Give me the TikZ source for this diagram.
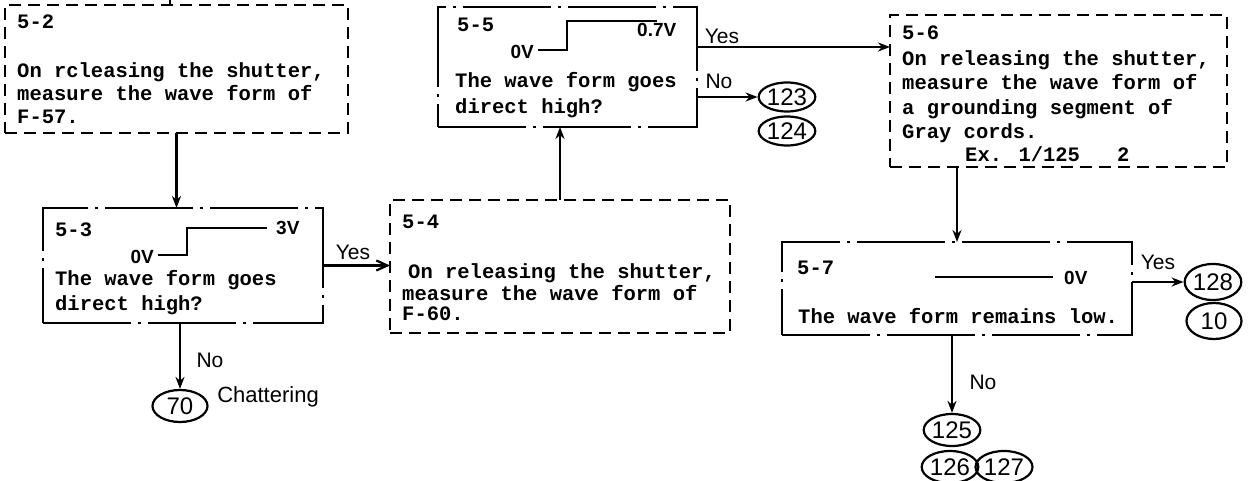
\documentclass[tikz,border=0pt]{standalone}
\usepackage{fontspec}
\newfontfamily\tw{Liberation Mono}
\newfontfamily\hw{Liberation Sans}
\usetikzlibrary{shapes.geometric,arrows.meta}
\tikzset{
  mono/.style={font=\tw\bfseries\fontsize{20.5}{24}\selectfont, inner sep=0pt, anchor=base west},
  hand/.style={font=\hw\fontsize{21}{22}\selectfont, inner sep=0pt},
  volt/.style={font=\hw\bfseries\fontsize{19}{20}\selectfont, inner sep=0pt},
  dbox/.style={draw, rectangle, line width=2.8pt, dash pattern=on 12pt off 7pt, inner sep=0pt, outer sep=0pt},
  ddbox/.style={draw, rectangle, line width=2.5pt, dash pattern=on 88pt off 7pt on 3pt off 7pt, inner sep=0pt, outer sep=0pt},
  circ/.style={draw, ellipse, line width=2.2pt, minimum width=55pt, minimum height=32pt, inner sep=0pt, font=\hw\fontsize{24}{26}\selectfont},
  arr/.style={line width=2.4pt, -{Stealth[length=12pt,width=9pt]}},
  oarr/.style={line width=2.2pt, -{Straight Barb[length=11pt,width=10pt]}},
  wave/.style={line width=2.6pt}
}
\begin{document}
\begin{tikzpicture}[x=1pt,y=-1pt]
\fill[white] (0,0) rectangle (1254,481);
\useasboundingbox (0,0) rectangle (1254,481);

% boxes
\node[dbox, minimum width=343pt, minimum height=128pt] (b52) at (176.5,69) {};
\node[ddbox, minimum width=280pt, minimum height=115pt] (b53) at (183,265.5) {};
\node[dbox, minimum width=340pt, minimum height=133pt] (b54) at (560,266.5) {};
\node[ddbox, minimum width=259pt, minimum height=120pt] (b55) at (567.5,67) {};
\node[dbox, minimum width=337pt, minimum height=152pt] (b56) at (1058.5,91) {};
\node[ddbox, minimum width=350pt, minimum height=93pt] (b57) at (957,288.5) {};

% box 5-2
\node[mono] (l52) at (17,29) {5-2};
\foreach \l [count=\i] in {{On rcleasing the shutter,},{measure the wave form of},{F-57.}}
  \node[mono] (t52-\i) at ({17},{77.5+23*(\i-1)}) {\l};

% box 5-3
\node[mono] (l53) at (55,237) {5-3};
\node[mono] (t53-1) at (55,285.5) {The wave form goes};
\node[mono] (t53-2) at (55,310.5) {direct high?};
\draw[wave] (158,255) -- (187,255) -- (187,228) -- (267,228);
\node[volt, anchor=east] (v53a) at (154,257) {0V};
\node[volt, anchor=west] (v53b) at (276,228) {3V};

% box 5-4
\node[mono] (l54) at (402,229) {5-4};
\node[mono] (t54-1) at (408,278.5) {On releasing the shutter,};
\node[mono] (t54-2) at (402,300.5) {measure the wave form of};
\node[mono] (t54-3) at (402,320.5) {F-60.};

% box 5-5
\node[mono] (l55) at (457,32) {5-5};
\node[mono] (t55-1) at (455,87.5) {The wave form goes};
\node[mono] (t55-2) at (455,113.5) {direct high?};
\draw[wave] (538,50) -- (567,50) -- (567,21) -- (657,21);
\node[volt, anchor=east] (v55a) at (534,52) {0V};
\node[volt, anchor=west] (v55b) at (637,30) {0.7V};

% box 5-6
\node[mono] (l56) at (902,40) {5-6};
\foreach \l [count=\i] in {{On releasing the shutter,},{measure the wave form of},{a grounding segment of},{Gray cords.}}
  \node[mono] (t56-\i) at ({902},{65.5+24.3*(\i-1)}) {\l};
\node[mono] (t56-5) at (965,162) {Ex. 1/125\hspace{37pt}2};

% box 5-7
\node[mono] (l57) at (797,275) {5-7};
\node[mono] (t57-1) at (798,323.5) {The wave form remains low.};
\draw[wave] (935,277) -- (1053,277);
\node[volt, anchor=west] (v57) at (1064,278) {0V};

% circles
\node[circ] (c70) at (180,406) {70};
\node[circ, minimum height=29pt] (c123) at (787,97) {123};
\node[circ, minimum height=29pt] (c124) at (787,131) {124};
\node[circ, minimum height=36pt] (c128) at (1213,282) {128};
\node[circ, minimum height=36pt] (c10) at (1214,321) {10};
\node[circ] (c125) at (952,430) {125};
\node[circ, minimum width=50pt] (c126) at (950,467) {126};
\node[circ, minimum width=57pt] (c127) at (1004,467) {127};

% connectors
\coordinate (top52) at (170,0);
\draw[line width=2.4pt] (top52) -- (top52 |- b52.north);
\draw[arr] (b52.south) -- (b53.north -| b52.south);
\draw[oarr] (b53.east) -- (b53.east -| b54.west);
\node[hand] (yes53) at (353,252) {Yes};
\draw[arr] (c70.north |- b53.south) -- (c70.north);
\node[hand] (no53) at (210,360) {No};
\node[hand, font=\hw\fontsize{22}{23}\selectfont] (chat) at (268,397) {Chattering};
\draw[arr] (b54.north) -- (b54.north |- b55.south);
\coordinate (y55) at ([yshift=20pt]b55.east);
\draw[arr] (y55) -- (y55 -| b56.west);
\node[hand] (yes55) at (722,36) {Yes};
\draw[arr] (c123.west -| b55.east) -- (c123.west);
\node[hand] (no55) at (719,81) {No};
\draw[arr] (b57.north |- b56.south) -- (b57.north);
\draw[arr] (c128.west -| b57.east) -- (c128.west);
\node[hand] (yes57) at (1158,262) {Yes};
\draw[arr] (b57.south -| c125.north) -- (c125.north);
\node[hand] (no57) at (983,382) {No};
\end{tikzpicture}
\end{document}
